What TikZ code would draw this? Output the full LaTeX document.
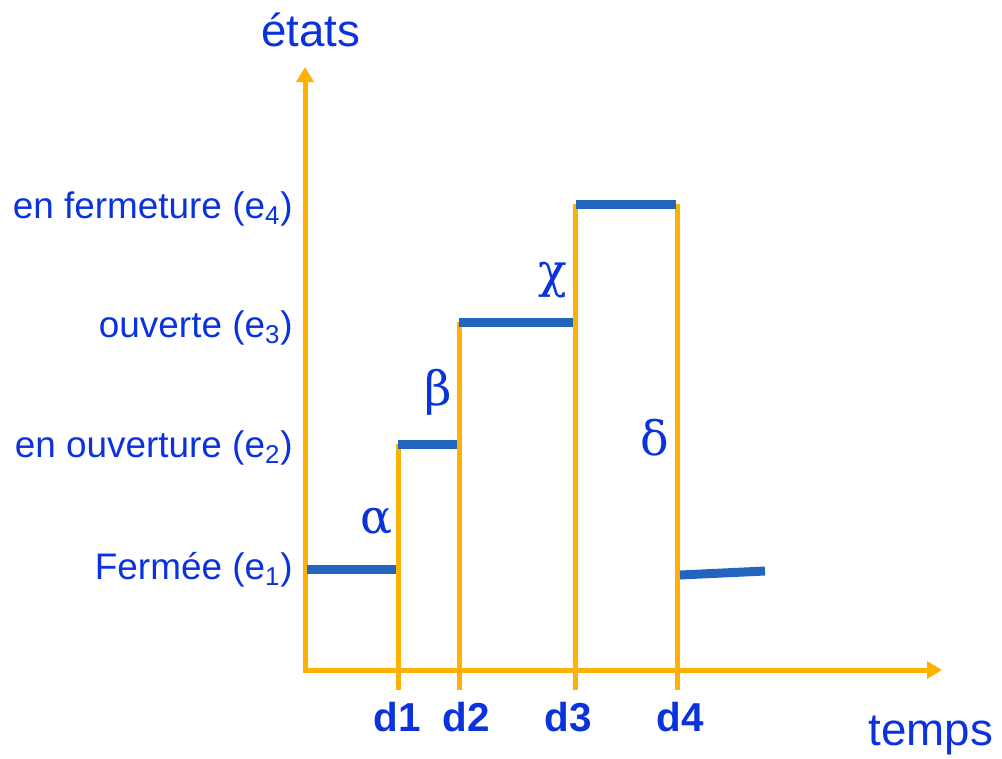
\documentclass[tikz,border=0pt]{standalone}
\usepackage{fontspec}
\setmainfont{Liberation Sans}
\newfontfamily\greekserif{DejaVu Serif}
\usetikzlibrary{arrows.meta,positioning}
\definecolor{axisorange}{HTML}{FFB000}
\definecolor{stateblue}{HTML}{2364BE}
\definecolor{textblue}{HTML}{0A33DD}
\tikzset{
  axis/.style={draw=axisorange, line width=1mm, -{Triangle[length=3mm, width=3.4mm]}},
  limit/.style={draw=axisorange, line width=1mm},
  level/.style={draw=stateblue, line width=1.8mm},
  statelabel/.style={anchor=east, text=textblue, font=\fontsize{21}{25}\selectfont, inner sep=0pt},
  datelabel/.style={text=textblue, font=\fontsize{23}{27}\selectfont\bfseries, inner sep=0pt},
  event/.style={text=textblue, font=\greekserif\fontsize{27}{31}\selectfont, inner sep=0pt},
  title/.style={text=textblue, font=\fontsize{26}{30}\selectfont, inner sep=0pt},
}
\begin{document}
\begin{tikzpicture}[x=0.2mm, y=-0.2mm]
  \useasboundingbox (0,0) rectangle (1002,758);
  % axes
  \coordinate (origin) at (305,670);
  \coordinate (ytop) at (305,67);
  \coordinate (xend) at (942,670);
  \draw[axis] (305,672) coordinate (ybot) -- (ytop);
  \draw[axis] (303,670) coordinate (xbeg) -- (xend);
  \node[title] (etats) at (311,30) {états};
  \node[title] (temps) at (931,735) {temps};
  % dates
  \coordinate (d1b) at (398,690); \coordinate (d1t) at (398,444);
  \coordinate (d2b) at (459,690); \coordinate (d2t) at (459,322);
  \coordinate (d3b) at (575,690); \coordinate (d3t) at (575,204);
  \coordinate (d4b) at (677,690); \coordinate (d4t) at (677,204);
  \draw[limit] (d1b) -- (d1t);
  \draw[limit] (d2b) -- (d2t);
  \draw[limit] (d3b) -- (d3t);
  \draw[limit] (d4b) -- (d4t);
  \node[datelabel] (d1) at (397,717) {d1};
  \node[datelabel] (d2) at (466,717) {d2};
  \node[datelabel] (d3) at (568,717) {d3};
  \node[datelabel] (d4) at (680,717) {d4};
  % states
  \coordinate (e1a) at (307,569); \coordinate (e1b) at (396,569);
  \coordinate (e2a) at (398,444); \coordinate (e2b) at (457,444);
  \coordinate (e3a) at (459,322); \coordinate (e3b) at (573,322);
  \coordinate (e4a) at (576,204); \coordinate (e4b) at (676,204);
  \coordinate (e5a) at (680,575); \coordinate (e5b) at (765,571);
  \draw[level] (e1a) -- (e1b);
  \draw[level] (e2a) -- (e2b);
  \draw[level] (e3a) -- (e3b);
  \draw[level] (e4a) -- (e4b);
  \draw[level] (e5a) -- (e5b);
  \node[statelabel] (fermee) at (293,570) {Fermée (e\textsubscript{1})};
  \node[statelabel] (enouv) at (293,448) {en ouverture (e\textsubscript{2})};
  \node[statelabel] (ouverte) at (293,328) {ouverte (e\textsubscript{3})};
  \node[statelabel] (enferm) at (293,209) {en fermeture (e\textsubscript{4})};
  % transitions
  \node[event] (alpha) at (377,522) {α};
  \node[event] (beta) at (438,392) {β};
  \node[event] (chi) at (553,280) {χ};
  \node[event] (delta) at (655,438) {δ};
\end{tikzpicture}
\end{document}
